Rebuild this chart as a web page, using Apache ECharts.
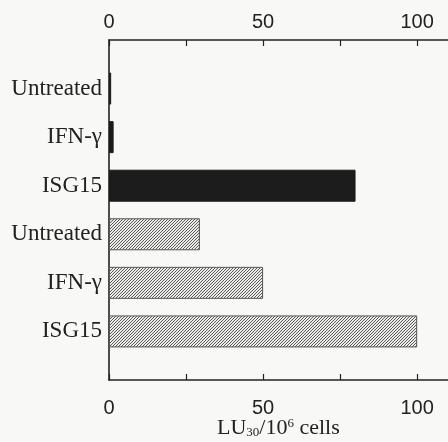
<!DOCTYPE html>
<html><head><meta charset="utf-8">
<script src="https://cdn.jsdelivr.net/npm/echarts@6/dist/echarts.min.js"></script>
<style>html,body{margin:0;padding:0;background:#f8f8f6;}#c{width:448px;height:442px;}</style>
</head><body><div id="c"></div>
<script>
const categories = ['Untreated', 'IFN-γ', 'ISG15', 'Untreated', 'IFN-γ', 'ISG15'];
const solidValues = [0.7, 1.5, 80, null, null, null];
const hatchedValues = [null, null, null, 29.5, 50, 100];
const tickValues = [0, 25, 50, 75, 100];
const labelValues = [0, 50, 100];

// padded category slots: blank slot at each end
const slots = ['s0'].concat(categories.map((c, i) => 'c' + i), ['s7']);
const slotLabel = v => v[0] === 'c' ? categories[+v.slice(1)] : '';
const pad = arr => ['-'].concat(arr.map(v => v == null ? '-' : v), ['-']);

const S = 6;
const cv = document.createElement('canvas');
cv.width = S; cv.height = S;
const g = cv.getContext('2d');
g.fillStyle = '#ececea'; g.fillRect(0, 0, S, S);
g.strokeStyle = '#5a5a5a'; g.lineWidth = 1;
g.beginPath();
for (let c = -S; c <= 2 * S; c += 3) {
  g.moveTo(-1, c + 1); g.lineTo(c + 1, -1);
}
g.stroke();

const chart = echarts.init(document.getElementById('c'));
const axisCommon = {
  type: 'value', min: 0, max: 110,
  axisLine: { show: true, lineStyle: { color: '#222', width: 1.6 } },
  axisTick: { show: true, inside: true, length: 6, customValues: tickValues, lineStyle: { color: '#222', width: 1.2 } },
  splitLine: { show: false },
};
chart.setOption({
  backgroundColor: '#f8f8f6',
  animation: false,
  grid: { left: 109, right: 0, top: 40, bottom: 62 },
  xAxis: [
    Object.assign({}, axisCommon, { position: 'bottom',
      axisLabel: { customValues: labelValues, margin: 18, fontFamily: 'Liberation Sans', fontSize: 20, color: '#222' } }),
    Object.assign({}, axisCommon, { position: 'top',
      axisLabel: { customValues: labelValues, margin: 8, fontFamily: 'Liberation Sans', fontSize: 20, color: '#222' } })
  ],
  yAxis: {
    type: 'category', data: slots, inverse: true, boundaryGap: false,
    axisLine: { show: true, lineStyle: { color: '#222', width: 1.6 } },
    axisTick: { show: false },
    axisLabel: { formatter: slotLabel, margin: 7, fontFamily: 'Liberation Serif', fontSize: 23, color: '#222' }
  },
  series: [
    { type: 'bar', data: pad(solidValues), barWidth: 32, barGap: '-100%',
      itemStyle: { color: '#1c1c1c', borderColor: '#1c1c1c', borderWidth: 1 } },
    { type: 'bar', data: pad(hatchedValues), barWidth: 32, barGap: '-100%',
      itemStyle: { color: { image: cv, repeat: 'repeat' }, borderColor: '#555', borderWidth: 1 } }
  ],
  graphic: [{
    type: 'text', left: 217, top: 417,
    style: {
      text: 'LU{sub|30}/10{sup|6} cells',
      fontFamily: 'Liberation Serif', fontSize: 22, fill: '#222',
      rich: {
        sub: { fontFamily: 'Liberation Serif', fontSize: 13, verticalAlign: 'bottom', padding: [9, 0, 0, 0], fill: '#222' },
        sup: { fontFamily: 'Liberation Serif', fontSize: 13, verticalAlign: 'top', padding: [0, 0, 9, 0], fill: '#222' }
      }
    }
  }]
});
</script></body></html>
